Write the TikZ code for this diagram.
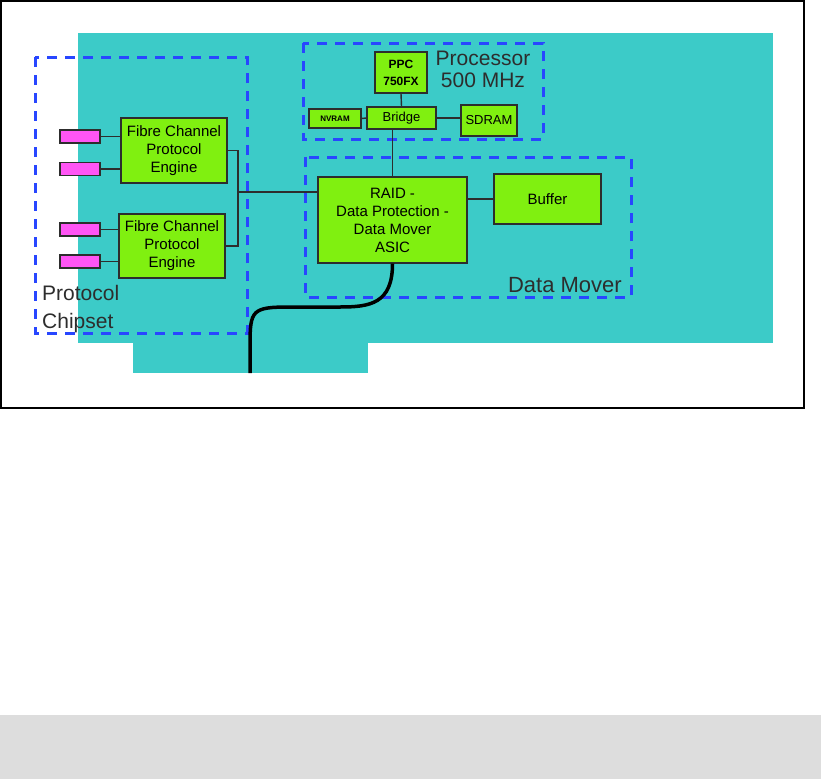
\documentclass[tikz,border=0pt]{standalone}
\usepackage{fontspec}
\setmainfont{Liberation Sans}
\usetikzlibrary{calc}
\definecolor{carte}{RGB}{60,203,200}
\definecolor{vert}{RGB}{128,240,16}
\definecolor{rose}{RGB}{255,85,245}
\definecolor{bleu}{RGB}{40,70,255}
\definecolor{gris}{RGB}{221,221,221}
\definecolor{encre}{RGB}{45,45,45}

\begin{document}
\begin{tikzpicture}[x=1pt, y=-1pt,
		bloc/.style={draw=encre, fill=vert, line width=1.3pt, inner sep=0pt, align=center, text=black, font=\fontsize{15}{18}\selectfont},
		port/.style={draw=encre, fill=rose, line width=1.3pt, minimum width=40pt, minimum height=13pt, inner sep=0pt},
		zone/.style={draw=bleu, line width=3pt, dash pattern=on 10pt off 8pt},
		lien/.style={draw=encre, line width=1.4pt},
		titre/.style={text=encre, inner sep=0pt}]
	\useasboundingbox (0,0) rectangle (821,779);
	% carte et cadre
	\fill[carte] (78,33) rectangle (773,343);
	\fill[carte] (133,343) rectangle (368,373);
	\draw[line width=1.5pt] (1,1) rectangle (804,408);
	\fill[gris] (0,715) rectangle (821,779);
	% zones en pointilles
	\draw[zone] (35,57) rectangle (247,333);
	\draw[zone] (303,43) rectangle (543,139);
	\draw[zone] (305,157) rectangle (631,297);
	\node[titre, anchor=north west, align=left, font=\fontsize{21}{28}\selectfont] (lblProto) at (42,285) {Protocol\\Chipset};
	\node[titre, anchor=north, align=center, font=\fontsize{21}{22}\selectfont] (lblProc) at (483,51) {Processor\\500 MHz};
	\node[titre, anchor=north east, font=\fontsize{22}{26}\selectfont] (lblMover) at (622,277) {Data Mover};
	% blocs
	\node[bloc, minimum width=106pt, minimum height=65pt] (fcA) at (174,150.5) {Fibre Channel\\Protocol\\Engine};
	\node[bloc, minimum width=106pt, minimum height=64pt] (fcB) at (172,246) {Fibre Channel\\Protocol\\Engine};
	\node[port] (pA1) at (80,136.5) {};
	\node[port] (pA2) at (80,169) {};
	\node[port] (pB1) at (80,229.5) {};
	\node[port] (pB2) at (80,261.5) {};
	\node[bloc, minimum width=149pt, minimum height=86pt] (raid) at (392.5,220) {RAID -\\Data Protection -\\Data Mover\\ASIC};
	\node[bloc, minimum width=107pt, minimum height=50pt] (buf) at (547.5,199) {Buffer};
	\node[bloc, minimum width=52pt, minimum height=41pt, font=\bfseries\fontsize{12}{17}\selectfont] (ppc) at (401,72.5) {PPC\\750FX};
	\node[bloc, minimum width=69pt, minimum height=22pt, font=\fontsize{13}{15}\selectfont] (brg) at (401.5,118) {Bridge};
	\node[bloc, minimum width=52pt, minimum height=19pt, font=\bfseries\fontsize{8}{10}\selectfont] (nvr) at (335,118.5) {NVRAM};
	\node[bloc, minimum width=56pt, minimum height=31pt, font=\fontsize{13}{15}\selectfont] (sdr) at (489,120.5) {SDRAM};
	% liaisons
	\foreach \p/\e in {pA1/fcA, pA2/fcA, pB1/fcB, pB2/fcB}
		\draw[lien] (\p.east) -- (\p.east -| \e.west);
	\coordinate (jn) at (238,192);
	\draw[lien] (fcA.east) -- (jn |- fcA.east) -- (jn |- fcB.east) -- (fcB.east);
	\draw[lien] (jn) -- (jn -| raid.west);
	\draw[lien] (ppc.south) -- (brg.north);
	\draw[lien] (nvr.east) -- (brg.west);
	\draw[lien] (brg.east) -- (brg.east -| sdr.west);
	\draw[lien] (raid.north |- brg.south) -- (raid.north);
	\draw[lien] (buf.west) -- (buf.west -| raid.east);
	% cable
	\coordinate (bout) at (250,373);
	\draw[line width=3.5pt] (raid.south) .. controls +(0,40) and +(30,0) .. (340,307) -- (290,307)
		.. controls +(-38,0) and +(0,-35) .. (250,345) -- (bout);
\end{tikzpicture}
\end{document}
